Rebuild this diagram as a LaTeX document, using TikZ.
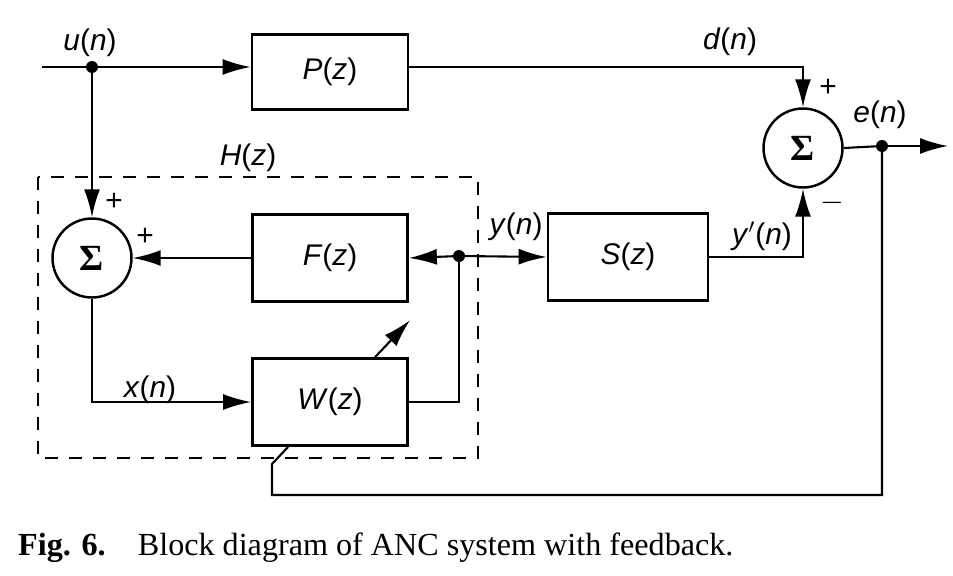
\documentclass[tikz,border=0pt]{standalone}
\usepackage{fontspec}
\setmainfont{Liberation Serif}
\setsansfont{Liberation Sans}
\usepackage{tikz}
\usetikzlibrary{arrows.meta}
\usetikzlibrary{positioning}
\usetikzlibrary{backgrounds}
\newcommand{\fn}[2]{\textit{#1}(\textit{#2})}
\newcommand{\sumsym}{{\rmfamily\bfseries\fontsize{21}{24}\selectfont Σ}}
\tikzset{
   every path/.style={>={Latex[length=5.6mm,width=3.2mm]}},
   blk/.style={draw,line width=1.6pt,rectangle,inner sep=0pt,minimum width=3.1cm,minimum height=1.74cm},
   sumnode/.style={draw,line width=1.4pt,circle,minimum size=1.58cm,inner sep=0pt},
   jdot/.style={circle,fill,minimum size=2.4mm,inner sep=0pt},
   sig/.style={->,line width=1.2pt},
   wire/.style={-,line width=1.2pt},
   hbox/.style={line width=1.2pt,dash pattern=on 2.6mm off 2.2mm},
}

\begin{document}
\begin{tikzpicture}[x=0.02cm,y=-0.02cm,font=\fontsize{17}{20}\selectfont\sffamily]
  \useasboundingbox (0,0) rectangle (953,575);

  \node[blk,minimum width=3.12cm,minimum height=1.5cm] (pz) at (330,72) {\fn{P}{z}};
  \node[blk]                     (fz) at (330,258) {\fn{F}{z}};
  \node[blk]                     (wz) at (330,402) {\fn{W}{z}};
  \node[blk,minimum width=3.2cm] (sz) at (628,257) {\fn{S}{z}};

  \node[sumnode] (sum1) at (92,258)  {\sumsym};
  \node[sumnode] (sum2) at (803,148) {\sumsym};

  \coordinate (uin)  at (42,67);
  \node[jdot] (ju) at (92,67)   {};
  \node[jdot] (jy) at (459,256) {};
  \node[jdot] (je) at (882,146) {};
  \coordinate (eout) at (948,146);
  \coordinate (fb)   at (272,495);

  \draw[sig]  (uin) -- (ju.center) -- (pz.west |- ju);
  \draw[sig]  (ju.center) -- (sum1.north);
  \draw[sig]  (pz.east |- ju) -| (sum2.north);
  \draw[sig]  (fz.west) -- (sum1.east);
  \draw[sig]  (sum1.south) |- (wz.west);
  \draw[wire] (wz.east) -| (jy.center);
  \draw[sig]  (jy.center) -- (fz.east);
  \draw[sig]  (jy.center) -- (sz.west);
  \draw[sig]  (sz.east) -| (sum2.south);
  \draw[wire] (sum2.east) -- (je.center);
  \draw[sig]  (je.center) -- (eout);
  \draw[wire] (je.center) |- (fb) -- ++(0,-31) -- ([xshift=0.74cm]wz.south west);
  \draw[sig]  ([xshift=2.48cm]wz.north west) -- ++(35,-37);

  \node (lu)  at (90,43)   {\fn{u}{n}};
  \node (ld)  at (730,42)  {\fn{d}{n}};
  \node (le)  at (880,115) {\fn{e}{n}};
  \node (ly)  at (516,227) {\fn{y}{n}};
  \node (lyp) at (762,236) {\textit{y}$'$(\textit{n})};
  \node (lx)  at (150,390) {\fn{x}{n}};
  \node (lh)  at (248,158) {\fn{H}{z}};

  \node (p1) at (114,202) {+};
  \node (p2) at (145,237) {+};
  \node (p3) at (828,88)  {+};
  \node (m3) at (832,203) {$-$};

  \begin{scope}[on background layer]
    \draw[hbox] (38,177) rectangle (478,458);
  \end{scope}

  \node[anchor=base west,font=\rmfamily\fontsize{18.3}{22}\selectfont] (cap) at (12,555)
    {\textbf{Fig. 6.}\hspace{1em}Block diagram of ANC system with feedback.};
\end{tikzpicture}
\end{document}
